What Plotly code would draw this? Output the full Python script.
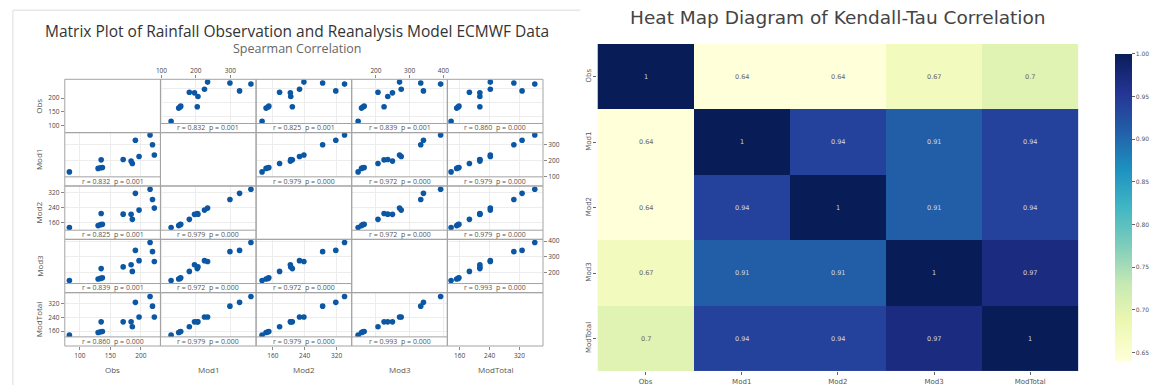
import plotly.graph_objects as go

W, H = 1159, 389

# ---------------- data ----------------
names = ["Obs", "Mod1", "Mod2", "Mod3", "ModTotal"]
obs      = [83, 130, 134, 137, 135, 171, 184, 186, 191, 197, 215, 219, 222]
mod1     = [128, 150, 154, 156, 204, 206, 196, 181, 327, 225, 360, 299, 234]
mod2     = [133, 143, 148, 150, 209, 205, 204, 177, 318, 227, 340, 285, 238]
mod3     = [147, 157, 161, 165, 224, 235, 249, 206, 341, 275, 392, 333, 270]
modtotal = [137, 152, 156, 158, 214, 214, 214, 186, 327, 242, 361, 305, 242]

tick_obs = [100, 150, 200]
tick_mod1 = [100, 200, 300]
tick_mod2 = [160, 240, 320]
tick_mod3 = [200, 300, 400]
tick_modtotal = [160, 240, 320]

# Spearman r / p (upper triangle, pairs i<j)
spearman_r = {(0, 1): "0.832", (0, 2): "0.825", (0, 3): "0.839", (0, 4): "0.860",
              (1, 2): "0.979", (1, 3): "0.972", (1, 4): "0.979",
              (2, 3): "0.972", (2, 4): "0.979",
              (3, 4): "0.993"}
spearman_p = {(0, 1): "0.001", (0, 2): "0.001", (0, 3): "0.001", (0, 4): "0.000",
              (1, 2): "0.000", (1, 3): "0.000", (1, 4): "0.000",
              (2, 3): "0.000", (2, 4): "0.000",
              (3, 4): "0.000"}

kendall = [[1, 0.64, 0.64, 0.67, 0.7],
           [0.64, 1, 0.94, 0.91, 0.94],
           [0.64, 0.94, 1, 0.91, 0.94],
           [0.67, 0.91, 0.91, 1, 0.97],
           [0.7, 0.94, 0.94, 0.97, 1]]
cbar_ticks = [0.65, 0.70, 0.75, 0.80, 0.85, 0.90, 0.95, 1.00]

data = [obs, mod1, mod2, mod3, modtotal]
ticks = [tick_obs, tick_mod1, tick_mod2, tick_mod3, tick_modtotal]

# axis ranges (as shown in the reference)
ranges = [[75.5, 232], [97, 375], [118, 358], [128, 412], [127, 383]]
diag_obs_range = [75, 268]

# ---------------- helpers ----------------
def px(x):
    return x / W

def py(y):
    return 1 - y / H

FONT = "Open Sans"
col_x = [60.7 + j * 97.06 for j in range(6)]
row_y = [77.7 + i * 54.32 for i in range(6)]
STRIP = 9.3
BORDER = "#a3a3a3"
DOT = "#0b57a4"

fig = go.Figure()
layout = dict(width=W, height=H, margin=dict(l=0, r=0, t=0, b=0, pad=0), autosize=False,
              paper_bgcolor="white", plot_bgcolor="white", showlegend=False,
              font=dict(family=FONT, color="#444"))
annotations = []
shapes = []

for i in range(5):
    for j in range(5):
        k = i * 5 + j + 1
        xn = "x" if k == 1 else f"x{k}"
        yn = "y" if k == 1 else f"y{k}"
        xk = "xaxis" if k == 1 else f"xaxis{k}"
        yk = "yaxis" if k == 1 else f"yaxis{k}"
        diag = i == j
        if diag:
            fig.add_trace(go.Scatter(x=[], y=[], xaxis=xn, yaxis=yn, hoverinfo="skip"))
        else:
            fig.add_trace(go.Scatter(x=data[j], y=data[i], xaxis=xn, yaxis=yn, mode="markers",
                                     marker=dict(color=DOT, size=5.6, line=dict(width=0))))
        ybot = row_y[i + 1] if diag else row_y[i + 1] - STRIP
        xd = [px(col_x[j]), px(col_x[j + 1])]
        yd = [py(ybot), py(row_y[i])]

        show_x = (i == 4 and j in (0, 2, 4)) or (i == 0 and j in (1, 3))
        show_y = (j == 0 and i in (0, 2, 4)) or (j == 4 and i in (1, 3))
        xax = dict(domain=xd, range=ranges[j], tickvals=ticks[j], showgrid=not diag,
                   gridcolor="#ededed", gridwidth=1, zeroline=False, showline=False,
                   showticklabels=show_x, ticks="outside" if show_x else "",
                   ticklen=3, tickcolor="#888", tickfont=dict(size=6.5, color="#444"),
                   fixedrange=True)
        if show_x and i == 0:
            xax.update(side="top", anchor=yn)
        elif show_x and i == 4 and not diag:
            xax.update(side="bottom", anchor="free", position=py(row_y[5]))
        else:
            xax.update(anchor=yn)
        yr = ranges[i]
        if diag and i == 0:
            yr = diag_obs_range
        yax = dict(domain=yd, range=yr, tickvals=ticks[i], showgrid=not diag,
                   gridcolor="#ededed", gridwidth=1, zeroline=False, showline=False,
                   showticklabels=show_y, ticks="outside" if show_y else "",
                   ticklen=3, tickcolor="#888", tickfont=dict(size=6.5, color="#444"),
                   anchor=xn, side="right" if (show_y and j == 4) else "left",
                   fixedrange=True)
        layout[xk] = xax
        layout[yk] = yax

        # panel frame
        shapes.append(dict(type="rect", xref="paper", yref="paper",
                           x0=px(col_x[j]), x1=px(col_x[j + 1]),
                           y0=py(row_y[i + 1]), y1=py(row_y[i]),
                           line=dict(color=BORDER, width=1), layer="above"))
        if not diag:
            shapes.append(dict(type="line", xref="paper", yref="paper",
                               x0=px(col_x[j]), x1=px(col_x[j + 1]),
                               y0=py(row_y[i + 1] - STRIP), y1=py(row_y[i + 1] - STRIP),
                               line=dict(color=BORDER, width=1), layer="above"))
            key = (min(i, j), max(i, j))
            annotations.append(dict(
                xref="paper", yref="paper",
                x=px((col_x[j] + col_x[j + 1]) / 2), y=py(row_y[i + 1] - STRIP / 2 - 0.3),
                text=f"r = {spearman_r[key]}\u00a0\u00a0p = {spearman_p[key]}",
                showarrow=False, font=dict(size=7, color="#555", family=FONT),
                xanchor="center", yanchor="middle"))

# axis titles
for j in range(5):
    annotations.append(dict(xref="paper", yref="paper",
                            x=px((col_x[j] + col_x[j + 1]) / 2), y=py(373),
                            text=names[j], showarrow=False, xanchor="center", yanchor="middle",
                            font=dict(size=8, color="#555", family=FONT)))
for i in range(5):
    annotations.append(dict(xref="paper", yref="paper",
                            x=px(34.3), y=py((row_y[i] + row_y[i + 1]) / 2),
                            text=names[i], showarrow=False, textangle=-90,
                            xanchor="center", yanchor="middle",
                            font=dict(size=8, color="#555", family=FONT)))

# titles of matrix plot
annotations.append(dict(xref="paper", yref="paper", x=px(296.4), y=py(28.3),
                        text="Matrix Plot of Rainfall Observation and Reanalysis Model ECMWF Data",
                        showarrow=False, xanchor="center", yanchor="middle",
                        font=dict(size=15.5, color="#333", family=FONT)))
annotations.append(dict(xref="paper", yref="paper", x=px(296.4), y=py(46.7),
                        text="Spearman Correlation", showarrow=False,
                        xanchor="center", yanchor="middle",
                        font=dict(size=12.5, color="#666", family=FONT)))

# left image frame
shapes.append(dict(type="line", xref="paper", yref="paper", x0=px(8), x1=px(584),
                   y0=py(7.3), y1=py(7.3), line=dict(color="#dddddd", width=1)))
shapes.append(dict(type="line", xref="paper", yref="paper", x0=px(8), x1=px(8),
                   y0=py(7.3), y1=0, line=dict(color="#dddddd", width=1)))

# ---------------- heat map ----------------
ylgnbu = [[0.0, "#ffffd9"], [0.125, "#edf8b1"], [0.25, "#c7e9b4"], [0.375, "#7fcdbb"],
          [0.5, "#41b6c4"], [0.625, "#1d91c0"], [0.75, "#225ea8"], [0.875, "#253494"],
          [1.0, "#081d58"]]
zmin = min(min(r) for r in kendall)
zmax = max(max(r) for r in kendall)
HM_TOP, HM_BOT = 41.7, 375
fig.add_trace(go.Heatmap(z=kendall, x=names, y=names, xaxis="x26", yaxis="y26",
                         colorscale=ylgnbu, zmin=zmin, zmax=zmax,
                         colorbar=dict(x=px(1116), xanchor="left", thickness=17,
                                       lenmode="fraction", len=(HM_BOT - HM_TOP) / H,
                                       y=py(HM_TOP), yanchor="top", outlinewidth=0,
                                       tickvals=cbar_ticks, tickformat=".2f",
                                       ticks="outside", ticklen=3, tickcolor="#666",
                                       tickfont=dict(size=6, color="#555", family="DejaVu Sans"))))
layout["xaxis26"] = dict(domain=[px(601.3), px(1089.3)], anchor="y26", ticks="outside",
                         ticklen=3, tickcolor="#666", showgrid=False, zeroline=False,
                         tickfont=dict(size=7, color="#555", family="DejaVu Sans"),
                         fixedrange=True)
layout["yaxis26"] = dict(domain=[py(HM_BOT), py(HM_TOP)], anchor="x26", ticks="outside",
                         ticklen=3, tickcolor="#666", showgrid=False, zeroline=False,
                         autorange="reversed", tickangle=-90,
                         tickfont=dict(size=7, color="#555", family="DejaVu Sans"),
                         fixedrange=True)
for r, rn in enumerate(names):
    for c, cn in enumerate(names):
        v = kendall[r][c]
        annotations.append(dict(xref="x26", yref="y26", x=cn, y=rn, text=f"{v:g}",
                                showarrow=False,
                                font=dict(size=6.5, family="DejaVu Sans",
                                          color="rgba(230,230,230,0.9)" if v > 0.8 else "#666")))
annotations.append(dict(xref="paper", yref="paper", x=px(845), y=py(15),
                        text="Heat Map Diagram of Kendall-Tau Correlation", showarrow=False,
                        xanchor="center", yanchor="middle",
                        font=dict(size=18.5, color="#444", family="DejaVu Sans")))

layout["annotations"] = annotations
layout["shapes"] = shapes
fig.update_layout(**layout)
fig.write_html("out.html", config={"displayModeBar": False},
               post_script="document.body.style.margin='0';document.body.style.overflow='hidden';")
